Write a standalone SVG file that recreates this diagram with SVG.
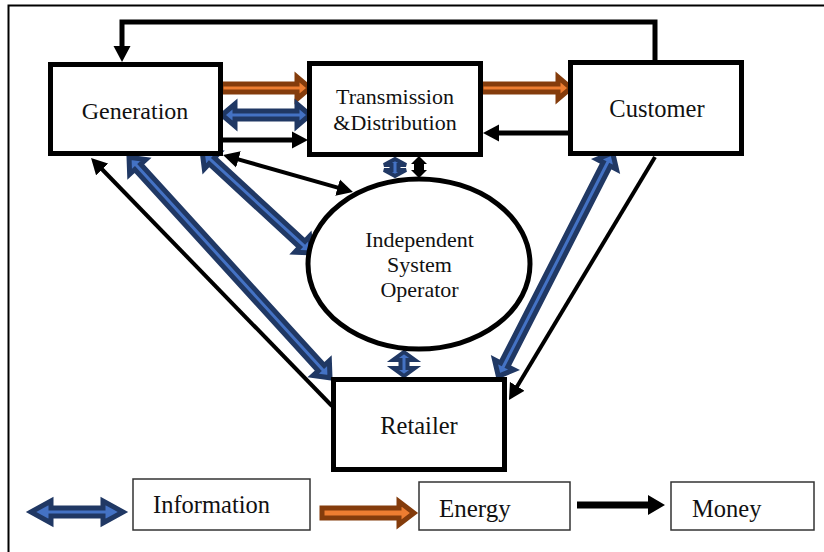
<svg xmlns="http://www.w3.org/2000/svg" width="824" height="552" viewBox="0 0 824 552">
<style>
.node{fill:#fff;stroke:#000;stroke-width:5}
.lbox{fill:#fff;stroke:#333;stroke-width:1.5}
text{font-family:'Liberation Serif','DejaVu Serif',serif;fill:#111}
.t{text-anchor:middle}
.info{fill:#4472C4;stroke:#203864;stroke-width:5;stroke-linejoin:miter}
.info2{fill:#4472C4;stroke:#203864;stroke-width:4;stroke-linejoin:miter}
.energy{fill:#ED7D31;stroke:#843C0C;stroke-width:5;stroke-linejoin:miter}
.money{fill:none;stroke:#000;stroke-width:5}
.money4{fill:none;stroke:#000;stroke-width:4}
</style>
<defs>
<marker id="ah" markerUnits="userSpaceOnUse" markerWidth="18" markerHeight="18" viewBox="0 0 18 18" refX="2" refY="9" orient="auto-start-reverse">
<path d="M0,0.5 L16,9 L0,17.5 z" fill="#000"/>
</marker>
</defs>
<path d="M8.5,552 V5.5 H824" fill="none" stroke="#000" stroke-width="2"/>
<g id="connectors">
<path class="money" d="M655,60 V22 H122 V48" marker-end="url(#ah)"/>
<polygon class="energy" points="221,84 297,84 297,77 310,88 297,99 297,92 221,92"/>
<polygon class="energy" points="481,84 558,84 558,77 571,88 558,99 558,92 481,92"/>
<polygon class="info" points="222,115 235,104 235,111 297,111 297,104 310,115 297,126 297,119 235,119 235,126"/>
<path class="money" d="M223,140 H294" marker-end="url(#ah)"/>
<path class="money" d="M570,133 H497" marker-end="url(#ah)"/>
<polygon class="info2" points="395,159 406,165 398.5,165 398.5,170 406,170 395,176 384,170 391.5,170 391.5,165 384,165"/>
<polygon fill="#000" points="419,156 427,164 424,164 424,170 427,170 419,178 411,170 414,170 414,164 411,164"/>
<polygon class="info2" points="404,352 415,360 407.5,360 407.5,368 415,368 404,376 393,368 400.5,368 400.5,360 393,360"/>
<path class="money4" d="M236.5,158.8 L339.5,188.2" marker-start="url(#ah)" marker-end="url(#ah)"/>
<polygon class="info" transform="translate(200,150) rotate(42.65)" points="3,0 16,-11 16,-4 139,-4 139,-11 152,0 139,11 139,4 16,4 16,11"/>
<polygon class="info" transform="translate(127,155) rotate(47.66)" points="3,0 16,-11 16,-4 288.4,-4 288.4,-11 301.4,0 288.4,11 288.4,4 16,4 16,11"/>
<polygon class="info" transform="translate(614,150) rotate(117.06)" points="3,0 16,-11 16,-4 241.2,-4 241.2,-11 254.2,0 241.2,11 241.2,4 16,4 16,11"/>
<path class="money4" d="M332,406 L100.8,168" marker-end="url(#ah)"/>
<path class="money4" d="M655,157 L516.2,388" marker-end="url(#ah)"/>
</g>
<g id="generation">
<rect class="node" x="50.5" y="64.5" width="170" height="89"/>
<text class="t" x="135" y="119" font-size="24" font-family="Liberation Serif, serif">Generation</text>
</g>
<g id="transmission">
<rect class="node" x="309.5" y="63.5" width="171" height="91"/>
<text class="t" x="395" y="104" font-size="22" font-family="Liberation Serif, serif">Transmission</text>
<text class="t" x="395" y="130" font-size="22" font-family="Liberation Serif, serif">&amp;Distribution</text>
</g>
<g id="customer">
<rect class="node" x="570.5" y="62.5" width="171" height="91"/>
<text class="t" x="657" y="117" font-size="24.5" font-family="Liberation Serif, serif">Customer</text>
</g>
<g id="iso">
<ellipse class="node" cx="419" cy="264" rx="111" ry="85" stroke-width="4.5"/>
<text class="t" x="419.5" y="247" font-size="22" font-family="Liberation Serif, serif">Independent</text>
<text class="t" x="419.5" y="272" font-size="22" font-family="Liberation Serif, serif">System</text>
<text class="t" x="419.5" y="297" font-size="22" font-family="Liberation Serif, serif">Operator</text>
</g>
<g id="retailer">
<rect class="node" x="333.5" y="379.5" width="171" height="90"/>
<text class="t" x="419" y="434" font-size="24.5" font-family="Liberation Serif, serif">Retailer</text>
</g>
<g id="legend">
<polygon class="info" points="31,512 51,501 51,508 103,508 103,501 123,512 103,523 103,516 51,516 51,523"/>
<rect class="lbox" x="133" y="479" width="177" height="51"/>
<text x="153" y="513" font-size="24.5" font-family="Liberation Serif, serif">Information</text>
<polygon class="energy" points="322,508 399,508 399,501.5 414,513 399,524.5 399,518 322,518" stroke-width="6"/>
<rect class="lbox" x="419" y="482" width="151" height="48"/>
<text x="439" y="517" font-size="25" font-family="Liberation Serif, serif">Energy</text>
<polygon fill="#000" points="577,501.5 648,501.5 648,495 665,505 648,515 648,508.5 577,508.5"/>
<rect class="lbox" x="671" y="482" width="143" height="48"/>
<text x="692" y="517" font-size="24.5" font-family="Liberation Serif, serif">Money</text>
</g>
</svg>
